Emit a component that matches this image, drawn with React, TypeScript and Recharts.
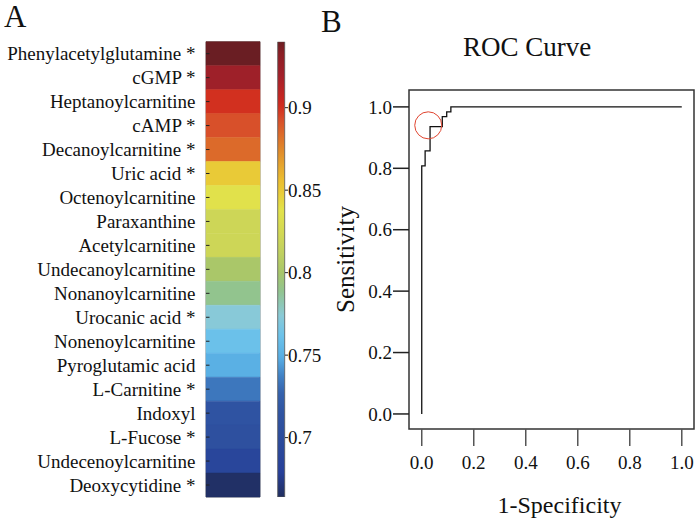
import React from 'react';
import {
  BarChart,
  Bar,
  Cell,
  XAxis,
  YAxis,
  ReferenceArea,
  LineChart,
  Line,
  ReferenceDot,
} from 'recharts';

// ---------- Data ----------
const metabolites = [
  'Phenylacetylglutamine *',
  'cGMP *',
  'Heptanoylcarnitine',
  'cAMP *',
  'Decanoylcarnitine *',
  'Uric acid *',
  'Octenoylcarnitine',
  'Paraxanthine',
  'Acetylcarnitine',
  'Undecanoylcarnitine',
  'Nonanoylcarnitine',
  'Urocanic acid *',
  'Nonenoylcarnitine',
  'Pyroglutamic acid',
  'L-Carnitine *',
  'Indoxyl',
  'L-Fucose *',
  'Undecenoylcarnitine',
  'Deoxycytidine *',
];

const aucValues = [
  0.94, 0.922, 0.9, 0.892, 0.884, 0.849, 0.837, 0.821, 0.821, 0.801, 0.789,
  0.773, 0.761, 0.75, 0.734, 0.714, 0.708, 0.689, 0.666,
];

const colorbarTicks = [0.7, 0.75, 0.8, 0.85, 0.9];
const colorbarRange: [number, number] = [0.664, 0.94];

const colorStops: [number, string][] = [
  [0.94, '#6a1e23'],
  [0.933, '#8b1e24'],
  [0.92, '#a2202a'],
  [0.905, '#c82620'],
  [0.9, '#d2301f'],
  [0.892, '#d8502a'],
  [0.884, '#dc6a2a'],
  [0.874, '#e08a2a'],
  [0.864, '#e6a82e'],
  [0.856, '#ebbd2f'],
  [0.85, '#eac835'],
  [0.838, '#e2e24a'],
  [0.824, '#d2d854'],
  [0.812, '#c0d060'],
  [0.8, '#a8c66a'],
  [0.789, '#92c48e'],
  [0.774, '#8acad6'],
  [0.762, '#6cc2ea'],
  [0.75, '#5ab0e4'],
  [0.747, '#55a8e0'],
  [0.737, '#4080c4'],
  [0.727, '#3562ad'],
  [0.715, '#2f54a2'],
  [0.7, '#2c4c9c'],
  [0.679, '#27409a'],
  [0.664, '#202e5e'],
];

const rocFpr = [0, 0, 0.013, 0.032, 0.079, 0.096, 0.112, 1];
const rocTpr = [0, 0.808, 0.857, 0.936, 0.968, 0.984, 1, 1];
const rocTicks = [0, 0.2, 0.4, 0.6, 0.8, 1];
const rocXDomain: [number, number] = [-0.049, 1.047];
const rocYDomain: [number, number] = [-0.049, 1.055];
const cutoffPoint = { fpr: 0.025, tpr: 0.94 };

// ---------- Helpers ----------
const FONT = "'Liberation Serif', 'Times New Roman', serif";
const TEXT = '#111';

function hexToRgb(h: string) {
  const n = parseInt(h.slice(1), 16);
  return [(n >> 16) & 255, (n >> 8) & 255, n & 255];
}
function colorFor(v: number) {
  const stops = [...colorStops].sort((a, b) => a[0] - b[0]);
  if (v <= stops[0][0]) return stops[0][1];
  if (v >= stops[stops.length - 1][0]) return stops[stops.length - 1][1];
  for (let i = 0; i < stops.length - 1; i++) {
    const [v0, c0] = stops[i];
    const [v1, c1] = stops[i + 1];
    if (v >= v0 && v <= v1) {
      const t = (v - v0) / (v1 - v0);
      const a = hexToRgb(c0);
      const b = hexToRgb(c1);
      const c = a.map((x, k) => Math.round(x + (b[k] - x) * t));
      return `rgb(${c[0]},${c[1]},${c[2]})`;
    }
  }
  return stops[0][1];
}

const heatData = metabolites.map((name, i) => ({ name, auc: aucValues[i], full: 1 }));
const colorbarData = [{ k: 'cb', range: colorbarRange }];
const rocData = rocFpr.map((fpr, i) => ({ fpr, tpr: rocTpr[i] }));

const W = 697;
const H = 525;
const abs: React.CSSProperties = { position: 'absolute', left: 0, top: 0 };

export default function App() {
  const span = colorbarRange[1] - colorbarRange[0];
  return (
    <div style={{ position: 'absolute', left: 0, top: 0, width: W, height: H, background: '#fff' }}>
      {/* Panel A: heatmap column */}
      <div style={abs}>
        <BarChart
          width={W}
          height={H}
          data={heatData}
          layout="vertical"
          barCategoryGap={0}
          barGap={0}
          margin={{ top: 41.7, bottom: 28, left: 0, right: 437 }}
        >
          <XAxis type="number" dataKey="full" domain={[0, 1]} hide />
          <YAxis
            yAxisId="l"
            type="category"
            dataKey="name"
            width={206}
            axisLine={false}
            tickSize={-3.5}
            tickMargin={14}
            interval={0}
            tickLine={{ stroke: '#222', strokeWidth: 1 }}
            tick={{ fill: TEXT, fontSize: 19, fontFamily: FONT }}
          />
          <YAxis
            yAxisId="r"
            orientation="right"
            type="category"
            dataKey="name"
            width={0}
            axisLine={false}
            tickSize={-4}
            interval={0}
            tickLine={{ stroke: '#222', strokeWidth: 1 }}
            tick={false}
          />
          <Bar yAxisId="l" dataKey="full" isAnimationActive={false}>
            {heatData.map((d) => (
              <Cell key={d.name} fill={colorFor(d.auc)} stroke={colorFor(d.auc)} strokeWidth={0.5} />
            ))}
          </Bar>
          <ReferenceArea yAxisId="l" x1={0} x2={1} fill="none" stroke="#8a8a8a" strokeWidth={1} ifOverflow="visible" />
        </BarChart>
      </div>

      {/* Panel A: colour bar */}
      <div style={abs}>
        <BarChart
          width={W}
          height={H}
          data={colorbarData}
          barCategoryGap={0}
          margin={{ top: 41.7, bottom: 28, left: 277.7, right: W - 285 - 60 }}
        >
          <defs>
            <linearGradient id="cbarGrad" x1="0" y1="0" x2="0" y2="1">
              {colorStops.map(([v, c]) => (
                <stop key={v} offset={`${((colorbarRange[1] - v) / span) * 100}%`} stopColor={c} />
              ))}
            </linearGradient>
          </defs>
          <XAxis dataKey="k" hide />
          <YAxis
            orientation="right"
            type="number"
            domain={colorbarRange}
            allowDataOverflow
            ticks={colorbarTicks}
            width={60}
            axisLine={false}
            tickSize={3}
            tickMargin={0}
            tickFormatter={(v: number) => String(v)}
            tickLine={{ stroke: '#222', strokeWidth: 1 }}
            tick={{ fill: TEXT, fontSize: 19, fontFamily: FONT }}
          />
          <Bar dataKey="range" fill="url(#cbarGrad)" stroke="#555" strokeWidth={0.8} isAnimationActive={false} />
        </BarChart>
      </div>

      {/* Panel B: ROC curve */}
      <div style={abs}>
        <LineChart
          width={W}
          height={H}
          data={rocData}
          margin={{ top: 90, bottom: 12, left: 281, right: 3 }}
        >
          <XAxis
            type="number"
            dataKey="fpr"
            domain={rocXDomain}
            allowDataOverflow
            ticks={rocTicks}
            height={84}
            axisLine={false}
            tickSize={17}
            tickMargin={10}
            tickFormatter={(v: number) => v.toFixed(1)}
            tickLine={{ stroke: '#555', strokeWidth: 1.5 }}
            tick={{ fill: TEXT, fontSize: 19, fontFamily: FONT }}
            label={{
              value: '1-Specificity',
              position: 'insideBottom',
              offset: 0,
              dx: 8,
              fill: TEXT,
              fontSize: 24,
              fontFamily: FONT,
            }}
          />
          <YAxis
            type="number"
            dataKey="tpr"
            domain={rocYDomain}
            allowDataOverflow
            ticks={rocTicks}
            width={128}
            axisLine={false}
            tickSize={16}
            tickMargin={1}
            tickFormatter={(v: number) => v.toFixed(1)}
            tickLine={{ stroke: '#222', strokeWidth: 1.5 }}
            tick={{ fill: TEXT, fontSize: 19, fontFamily: FONT }}
            label={{
              value: 'Sensitivity',
              position: 'center',
              angle: -90,
              fill: TEXT,
              fontSize: 25,
              fontFamily: FONT,
            }}
          />
          <ReferenceArea
            x1={rocXDomain[0]}
            x2={rocXDomain[1]}
            y1={rocYDomain[0]}
            y2={rocYDomain[1]}
            fill="none"
            stroke="#333"
            strokeWidth={1.5}
            ifOverflow="visible"
          />
          <Line
            type="stepAfter"
            dataKey="tpr"
            stroke="#111"
            strokeWidth={1.3}
            dot={false}
            isAnimationActive={false}
          />
          <ReferenceDot
            x={cutoffPoint.fpr}
            y={cutoffPoint.tpr}
            r={13.5}
            fill="none"
            stroke="#e0442f"
            strokeWidth={1}
            ifOverflow="visible"
          />
        </LineChart>
      </div>

      {/* Panel letters and title */}
      <svg width={W} height={H} style={{ ...abs, pointerEvents: 'none' }}>
        <text x={4} y={27} fontSize={31} fontFamily={FONT} fill={TEXT}>A</text>
        <text x={321} y={32} fontSize={31} fontFamily={FONT} fill={TEXT}>B</text>
        <text x={527} y={56} fontSize={27} fontFamily={FONT} fill={TEXT} textAnchor="middle">ROC Curve</text>
      </svg>
    </div>
  );
}
